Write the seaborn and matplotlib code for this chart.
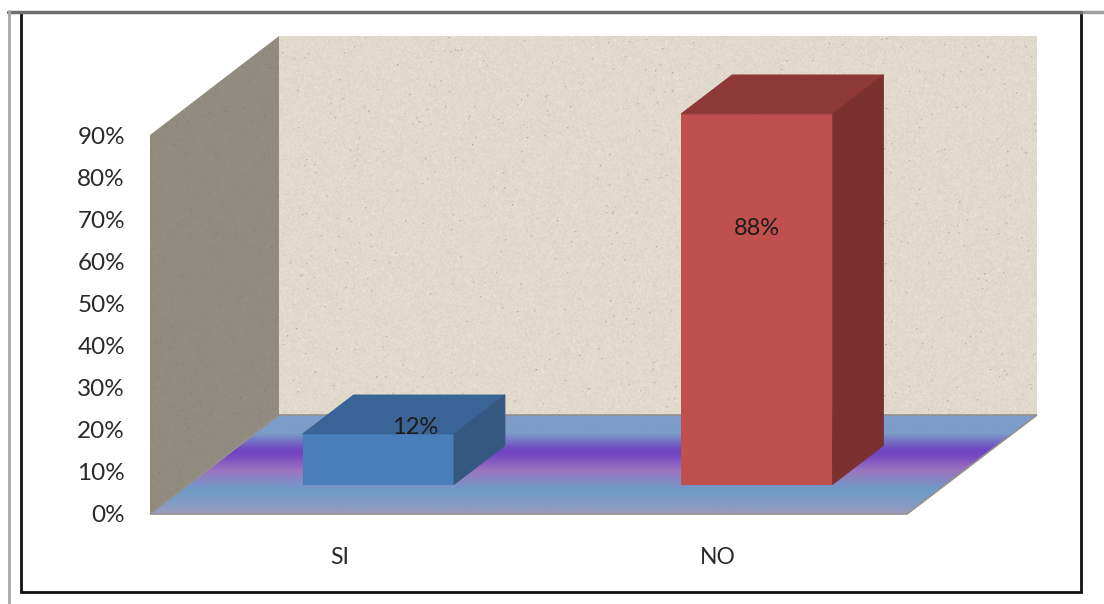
import numpy as np
import matplotlib
matplotlib.use('Agg')
import matplotlib.pyplot as plt
from matplotlib.colors import LinearSegmentedColormap
from matplotlib.patches import Polygon
import seaborn as sns

categories = ['SI', 'NO']
values = [12, 88]
ytick_values = [0, 10, 20, 30, 40, 50, 60, 70, 80, 90]
ytick_labels = ['0%', '10%', '20%', '30%', '40%', '50%', '60%', '70%', '80%', '90%']

bar_colors = ['#4a7ebb', '#c0504d']
top_colors = ['#3a6496', '#8e3937']
side_colors = ['#34587f', '#7a312f']

W, H = 1104, 604

sns.set_style('white')
plt.rcParams['font.family'] = ['Lato', 'DejaVu Sans']

fig = plt.figure(figsize=(W / 100, H / 100), dpi=100)


def px_axes(left, top, right, bottom):
    return fig.add_axes([left / W, 1 - bottom / H, (right - left) / W, (bottom - top) / H])


# background in pixel coordinates: frame, walls and floor
bg = fig.add_axes([0, 0, 1, 1], zorder=0)
bg.set_xlim(0, W)
bg.set_ylim(H, 0)
bg.axis('off')

bg.add_patch(plt.Rectangle((21, 12), 1060, 580, fc='white', ec='#111111', lw=2))
bg.plot([1081, W], [11.5, 11.5], color='#a0a0a0', lw=2.5)
bg.plot([8, 1081], [11.5, 11.5], color='#707070', lw=2.5)
bg.plot([9, 9], [11, H], color='#a8a8a8', lw=2)

# paper texture of the walls only, not chart data
rng = np.random.default_rng(4)


def speckle(h, w, amount):
    n = rng.normal(0, 1, (h, w))
    n = (n + np.roll(n, 1, 0) + np.roll(n, 1, 1) + np.roll(n, (1, 1), (0, 1))) / 4
    spots = rng.random((h, w)) > 0.9985
    n = n - spots * 7 - (np.roll(spots, 1, 0) + np.roll(spots, 1, 1)) * 3
    return n * amount


wall = np.ones((379, 758, 3)) * np.array([225, 218, 204]) / 255
wall = np.clip(wall + speckle(379, 758, 0.022)[:, :, None], 0, 1)
bg.imshow(wall, extent=(279, 1037, 415, 36), interpolation='bilinear', aspect='auto', zorder=1)

side = np.ones((479, 130, 3)) * np.array([146, 139, 128]) / 255
side = np.clip(side + speckle(479, 130, 0.010)[:, :, None], 0, 1)
im = bg.imshow(side, extent=(150, 279, 514, 36), interpolation='bilinear', aspect='auto', zorder=1)
im.set_clip_path(Polygon([(150, 135), (279, 36), (279, 415), (150, 514)], transform=bg.transData))

floor_cmap = LinearSegmentedColormap.from_list('floor', [
    (0.00, '#7f9cc9'), (0.18, '#7b9cc9'), (0.35, '#7044c2'), (0.40, '#7446c2'),
    (0.56, '#9c74bf'), (0.76, '#6f9bc8'), (0.88, '#7f9cc6'), (1.00, '#9a9cc0')])
floor = np.linspace(0, 1, 100)[:, None]
im = bg.imshow(floor, cmap=floor_cmap, extent=(150, 1037, 514, 415), aspect='auto', zorder=2,
               interpolation='bilinear')
floor_poly = Polygon([(150, 514), (279, 415), (1037, 415), (907, 514)], transform=bg.transData,
                     fc='none', ec='#94908c', lw=1.2, zorder=3)
bg.add_patch(floor_poly)
im.set_clip_path(floor_poly)
bg.set_xlim(0, W)
bg.set_ylim(H, 0)

# front plane, carries the tick labels
ax = px_axes(150, 135, 907, 514)
ax.patch.set_alpha(0)
ax.set_zorder(1)
ax.set_xlim(-0.5, 1.5)
ax.set_ylim(0, 90)
ax.set_yticks(ytick_values)
ax.set_yticklabels(ytick_labels)
ax.set_xticks(range(len(categories)))
ax.set_xticklabels(categories)
ax.tick_params(axis='y', length=0, pad=18, labelsize=17.5, labelcolor='#2a2a2a')
ax.tick_params(axis='x', length=0, pad=24, labelsize=16.5, labelcolor='#2a2a2a')
sns.despine(ax=ax, left=True, bottom=True)

# the bars stand further back on the floor
ax_bar = px_axes(189, 105.5, 946, 484.5)
ax_bar.patch.set_alpha(0)
ax_bar.set_zorder(2)
sns.barplot(x=categories, y=values, hue=categories, palette=bar_colors, width=0.4,
            legend=False, saturation=1, linewidth=0, ax=ax_bar)
ax_bar.set_xlim(-0.5, 1.5)
ax_bar.set_ylim(0, 90)
ax_bar.axis('off')

depth_x = 51 / 378.5
depth_y = 39 / 4.211
label_offsets = [(37, 6), (0, -115)]

for i, p in enumerate(ax_bar.patches):
    x0 = p.get_x()
    x1 = x0 + p.get_width()
    h = p.get_height()
    ax_bar.fill([x0, x0 + depth_x, x1 + depth_x, x1], [h, h + depth_y, h + depth_y, h],
                color=top_colors[i], lw=0.6, clip_on=False)
    ax_bar.fill([x1, x1 + depth_x, x1 + depth_x, x1], [0, depth_y, h + depth_y, h],
                color=side_colors[i], lw=0.6, clip_on=False)
    ax_bar.annotate(f'{values[i]}%', xy=(x0 + p.get_width() / 2, h), xytext=label_offsets[i],
                    textcoords='offset pixels', ha='center', va='center', fontsize=17,
                    color='#1c1c1c', zorder=5, annotation_clip=False)

fig.savefig('out.png', dpi=100)
